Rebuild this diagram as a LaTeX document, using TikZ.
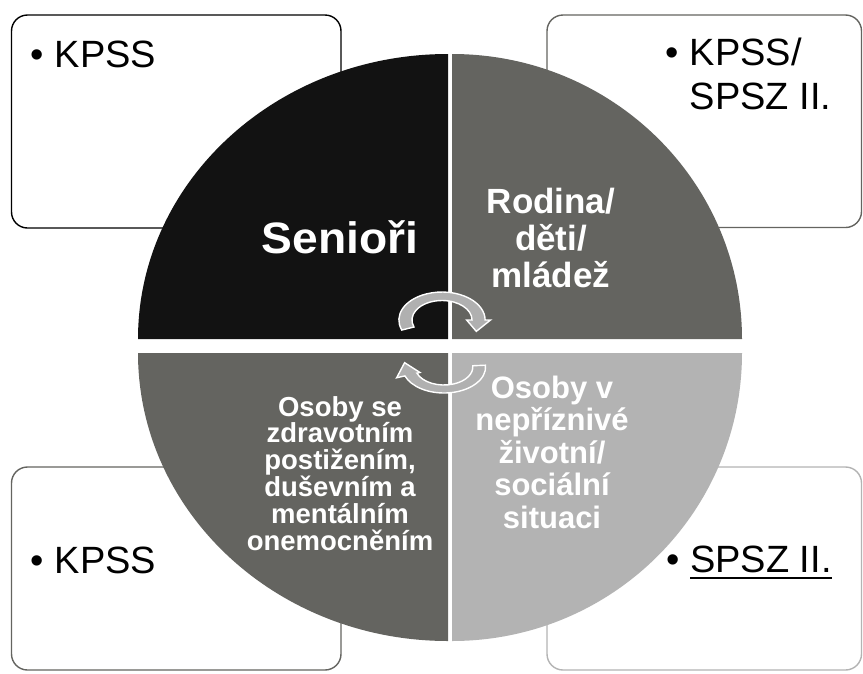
\documentclass[tikz,border=0pt]{standalone}
\usepackage{fontspec}
\setmainfont{Liberation Sans}
\usepackage{graphicx}
\definecolor{qblack}{RGB}{18,18,18}
\definecolor{qdark}{RGB}{100,100,96}
\definecolor{qlight}{RGB}{179,179,179}
\definecolor{arrowgray}{RGB}{176,176,176}
\newcommand\myuline[1]{\sbox0{#1}\rlap{\rule[-7pt]{\wd0}{2pt}}\usebox0}
\setlength{\lineskiplimit}{-100pt}
\begin{document}
\begin{tikzpicture}[x=1pt,y=-1pt,
  box/.style={fill=white, line width=1.4pt, rounded corners=16pt},
  boxtext/.style={inner sep=0pt, anchor=base west, align=left, font=\fontsize{38}{44}\selectfont},
  quadtext/.style={inner sep=0pt, anchor=base, align=center, text=white},
  cyc/.style={fill=arrowgray, draw=white, line width=1.4pt, line join=miter}]
\useasboundingbox (0,0) rectangle (863,673);
% boxes
\draw[box, draw=black] (11.5,15) rectangle (341,228);
\draw[box, draw=qdark] (547,15) rectangle (861.5,227.5);
\draw[box, draw=qdark] (11.5,467) rectangle (341,670);
\draw[box, draw=qlight] (547,467) rectangle (861.5,670);
% quadrants
\fill[qblack] (448,339) -- (138,339) arc[start angle=180,end angle=270,x radius=310,y radius=285] -- cycle;
\fill[qdark] (452,339) -- (452,54) arc[start angle=270,end angle=360,x radius=290,y radius=285] -- cycle;
\fill[qdark] (448,353) -- (138,353) arc[start angle=180,end angle=90,x radius=310,y radius=288] -- cycle;
\fill[qlight] (452,353) -- (742,353) arc[start angle=0,end angle=90,x radius=290,y radius=288] -- cycle;
% cycle arrows
\begin{scope}[shift={(442,320)}, xscale=1.54, yscale=-1]
\draw[cyc] (201:28) arc[start angle=201,end angle=0,radius=28] -- (0:31.5) -- (-27:25) -- (0:16) -- (0:19.5) arc[start angle=0,end angle=201,radius=19.5] -- cycle;
\end{scope}
\begin{scope}[shift={(444,367)}, xscale=1.6, yscale=-1]
\draw[cyc] (4:26) arc[start angle=4,end angle=-160,radius=26] -- (-160:31.5) -- (170:25) -- (-160:16) -- (-160:18) arc[start angle=-160,end angle=4,radius=18] -- cycle;
\end{scope}
% box texts
\node[boxtext] (t1) at (54.5,67) {\llap{\char"2022\hspace{10.5pt}}KPSS};
\node[boxtext] (t2) at (689.5,109) {\llap{\char"2022\hspace{10.5pt}}KPSS/\\SPSZ II.};
\node[boxtext] (t3) at (54.5,573) {\llap{\char"2022\hspace{10.5pt}}KPSS};
\node[boxtext] (t4) at (690,572) {\llap{\char"2022\hspace{10.5pt}}\myuline{SPSZ II.}};
% quadrant texts
\node[quadtext, font=\bfseries\fontsize{44}{48}\selectfont] (sen) at (340,253) {\scalebox{1.05}[1]{Senioři}};
\node[quadtext, font=\bfseries\fontsize{35}{37}\selectfont] (rod) at (551,287) {Rodina/\\děti/\\mládež};
\node[quadtext, font=\bfseries\fontsize{31}{32.5}\selectfont] (neg) at (552,528) {Osoby v\\nepříznivé\\životní/\\sociální\\situaci};
\node[quadtext, font=\bfseries\fontsize{27.5}{26.8}\selectfont] (zdr) at (340,550) {Osoby se\\zdravotním\\postižením,\\duševním a\\mentálním\\onemocněním};
\end{tikzpicture}
\end{document}
